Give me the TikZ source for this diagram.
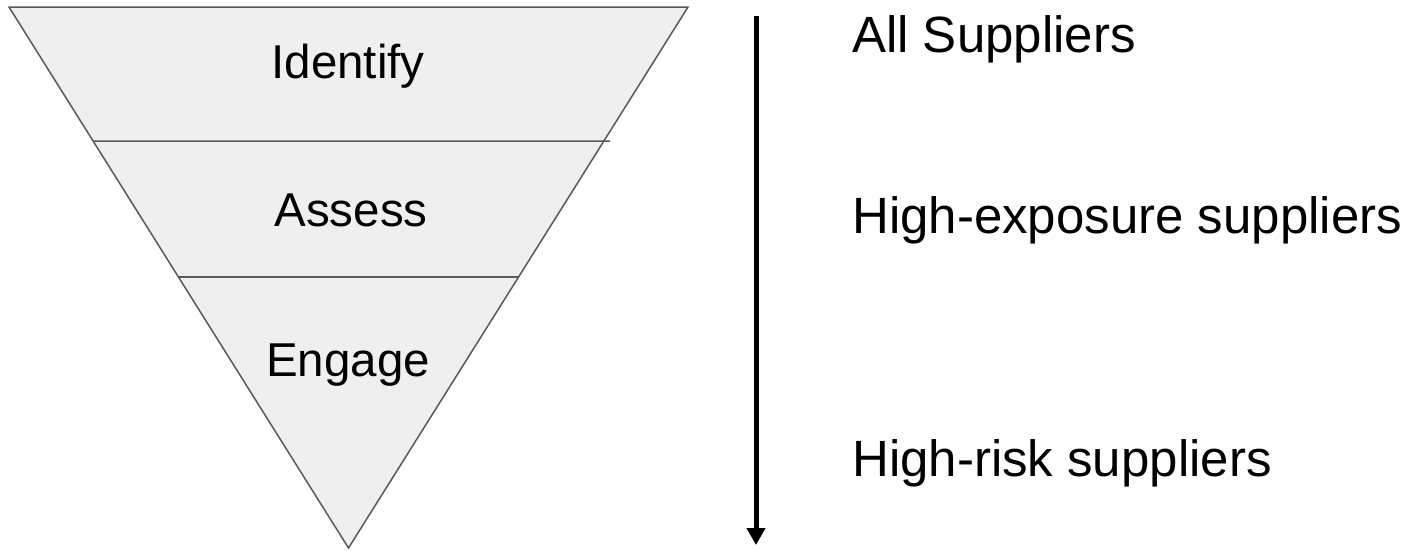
\documentclass[tikz,border=0pt]{standalone}
\usepackage{fontspec}
\setmainfont{Liberation Sans}
\usetikzlibrary{arrows.meta,calc}
\definecolor{funnelfill}{HTML}{EFEFEF}
\definecolor{funnelline}{HTML}{595959}
\begin{document}
\begin{tikzpicture}[x=1pt,y=-1pt,
  stagelabel/.style={anchor=base,inner sep=0pt,font=\fontsize{47.5}{56}\selectfont},
  sidelabel/.style={anchor=base west,inner sep=0pt,font=\fontsize{51}{60}\selectfont},
  funnelpath/.style={draw=funnelline,line width=1.5pt,line join=miter},
  flowarrow/.style={line width=5pt,-{Triangle[length=17pt 0,width=18pt 0]}}]
\useasboundingbox (0,0) rectangle (1406,550);
% funnel
\coordinate (tl) at (9,7);
\coordinate (tr) at (688,7);
\coordinate (ap) at (348.5,548);
\filldraw[funnelpath,fill=funnelfill] (tl) -- (tr) -- (ap) -- cycle;
\coordinate (l1a) at ($(tl)!0.2477!(ap)$);
\coordinate (l1b) at (610,141);
\coordinate (l2a) at ($(tl)!0.4991!(ap)$);
\coordinate (l2b) at ($(tr)!0.4991!(ap)$);
\draw[funnelpath] (l1a) -- (l1b);
\draw[funnelpath] (l2a) -- (l2b);
% stage labels
\node[stagelabel] (identify) at (348,78) {Identify};
\node[stagelabel] (assess) at (351,226) {Assess};
\node[stagelabel] (engage) at (348,376) {Engage};
% arrow
\coordinate (arrtop) at (756,16);
\coordinate (arrbot) at (756,545);
\draw[flowarrow] (arrtop) -- (arrbot);
% side labels
\node[sidelabel] (all) at (852,52) {All Suppliers};
\node[sidelabel] (exposure) at (852,233) {High-exposure suppliers};
\node[sidelabel] (risk) at (852,476) {High-risk suppliers};
\end{tikzpicture}
\end{document}
